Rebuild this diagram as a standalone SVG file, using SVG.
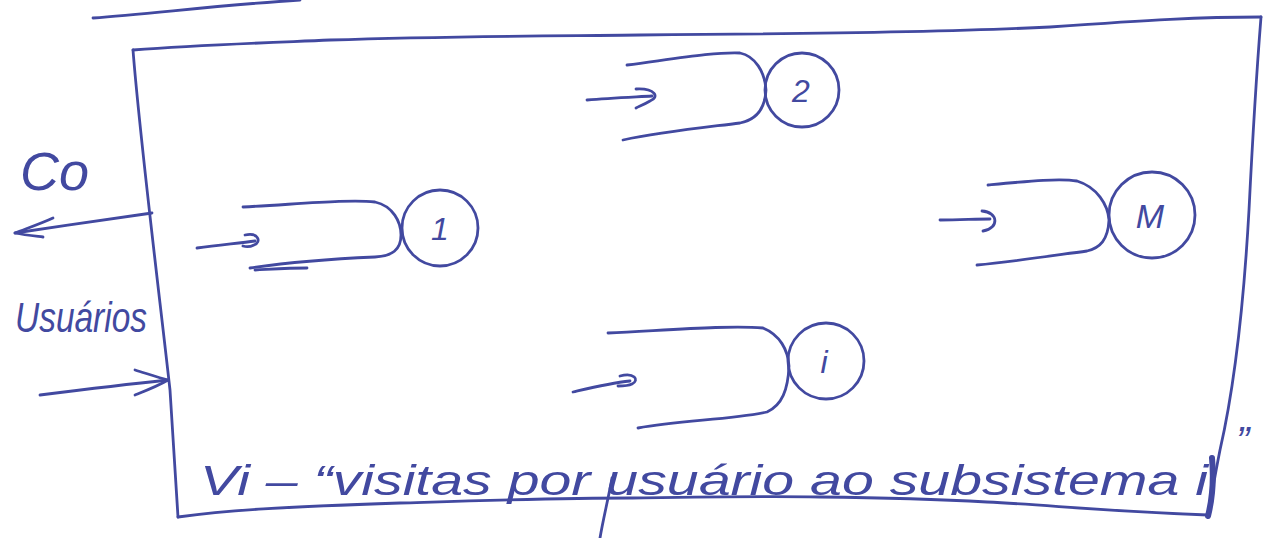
<svg xmlns="http://www.w3.org/2000/svg" width="1263" height="538" viewBox="0 0 1263 538">
<style>
.ink{fill:none;stroke:#4249a0;stroke-width:2.8;stroke-linecap:round;stroke-linejoin:round}
.lbl{font-family:"Liberation Sans",Arial,sans-serif;font-style:italic;fill:#4249a0}
</style>
<rect width="1263" height="538" fill="#ffffff"/>
<!-- stray top stroke -->
<path class="ink" d="M93,18 C150,14 220,5 300,0"/>
<!-- system frame -->
<g id="frame">
<path class="ink" d="M133,50 C200,45 260,43 330,40 C450,36 550,36 640,35 C800,34 950,32 1050,27 C1150,20 1200,17 1261,17"/>
<path class="ink" d="M133,50 C140,140 160,300 170,390 C173,440 176,480 178,517"/>
<path class="ink" d="M1261,17 C1256,80 1252,150 1249,210 C1244,300 1236,380 1220,450 C1214,480 1211,500 1208,515"/>
<path class="ink" d="M178,517 C230,510 280,507 400,503 C500,500 560,498 630,498 C700,497 760,496 820,497 C900,498 950,500 987,502 C1050,505 1100,511 1208,515"/>
<path class="ink" d="M1212,458 C1214,480 1212,500 1208,516" style="stroke-width:6"/>
</g>
<!-- nodes -->
<g id="node-1">
<path class="ink" d="M243,207 C300,204 350,199 375,202 C393,206 401,222 401,235 C401,250 392,256 375,257 C330,259 290,262 250,268"/>
<path class="ink" d="M255,270 C275,269 290,268 307,268"/>
<circle class="ink" cx="440" cy="228" r="38"/>
<text class="lbl" x="440" y="240" font-size="32" text-anchor="middle">1</text>
</g>
<g id="node-2">
<path class="ink" d="M627,65 C680,58 715,52 740,53 C755,56 765,72 766,90 C765,110 755,120 740,123 C700,128 660,132 623,140"/>
<circle class="ink" cx="802" cy="90" r="37"/>
<text class="lbl" x="801" y="102" font-size="32" text-anchor="middle">2</text>
</g>
<g id="node-M">
<path class="ink" d="M988,185 C1030,181 1060,178 1077,181 C1097,187 1108,205 1109,220 C1108,240 1100,248 1087,251 C1050,256 1010,262 977,265"/>
<circle class="ink" cx="1152" cy="215" r="43"/>
<text class="lbl" x="1150" y="228" font-size="34" text-anchor="middle">M</text>
</g>
<g id="node-i">
<path class="ink" d="M608,333 C670,330 730,325 763,328 C780,335 788,350 789,366 C788,390 782,405 767,412 C730,420 680,420 638,428"/>
<circle class="ink" cx="826" cy="361" r="38"/>
<text class="lbl" x="824" y="373" font-size="32" text-anchor="middle">i</text>
</g>
<!-- connectors -->
<g id="connectors">
<path class="ink" d="M197,248 C220,245 240,243 255,241"/>
<path class="ink" d="M245,235 C258,232 262,242 254,245 C250,247 246,247 243,246"/>
<path class="ink" d="M587,100 C610,98 635,97 652,96"/>
<path class="ink" d="M636,89 C655,88 660,97 650,101 C645,104 640,106 636,108"/>
<path class="ink" d="M940,220 C960,220 975,219 990,219"/>
<path class="ink" d="M982,211 C998,212 1000,228 983,231"/>
<path class="ink" d="M573,392 C590,388 610,383 630,381"/>
<path class="ink" d="M620,376 C634,372 640,380 632,384 C628,386 622,386 618,386"/>
<path class="ink" d="M152,213 C110,219 60,226 15,233"/>
<path class="ink" d="M53,218 C40,224 25,229 15,233 C25,235 35,236 43,237"/>
<path class="ink" d="M40,395 C80,390 130,384 168,380"/>
<path class="ink" d="M135,370 C148,374 160,378 168,380 C158,386 145,391 135,395"/>
</g>
<!-- labels -->
<text class="lbl" x="20" y="190" font-size="54">Co</text>
<text class="lbl" x="15" y="332" font-size="42" textLength="132" lengthAdjust="spacingAndGlyphs">Usuários</text>
<text class="lbl" x="200" y="495" font-size="42" textLength="1008" lengthAdjust="spacingAndGlyphs">Vi – “visitas por usuário ao subsistema i</text>
<text class="lbl" x="1236" y="455" font-size="40">”</text>
<path class="ink" d="M612,478 C608,500 603,520 600,538"/>
</svg>
